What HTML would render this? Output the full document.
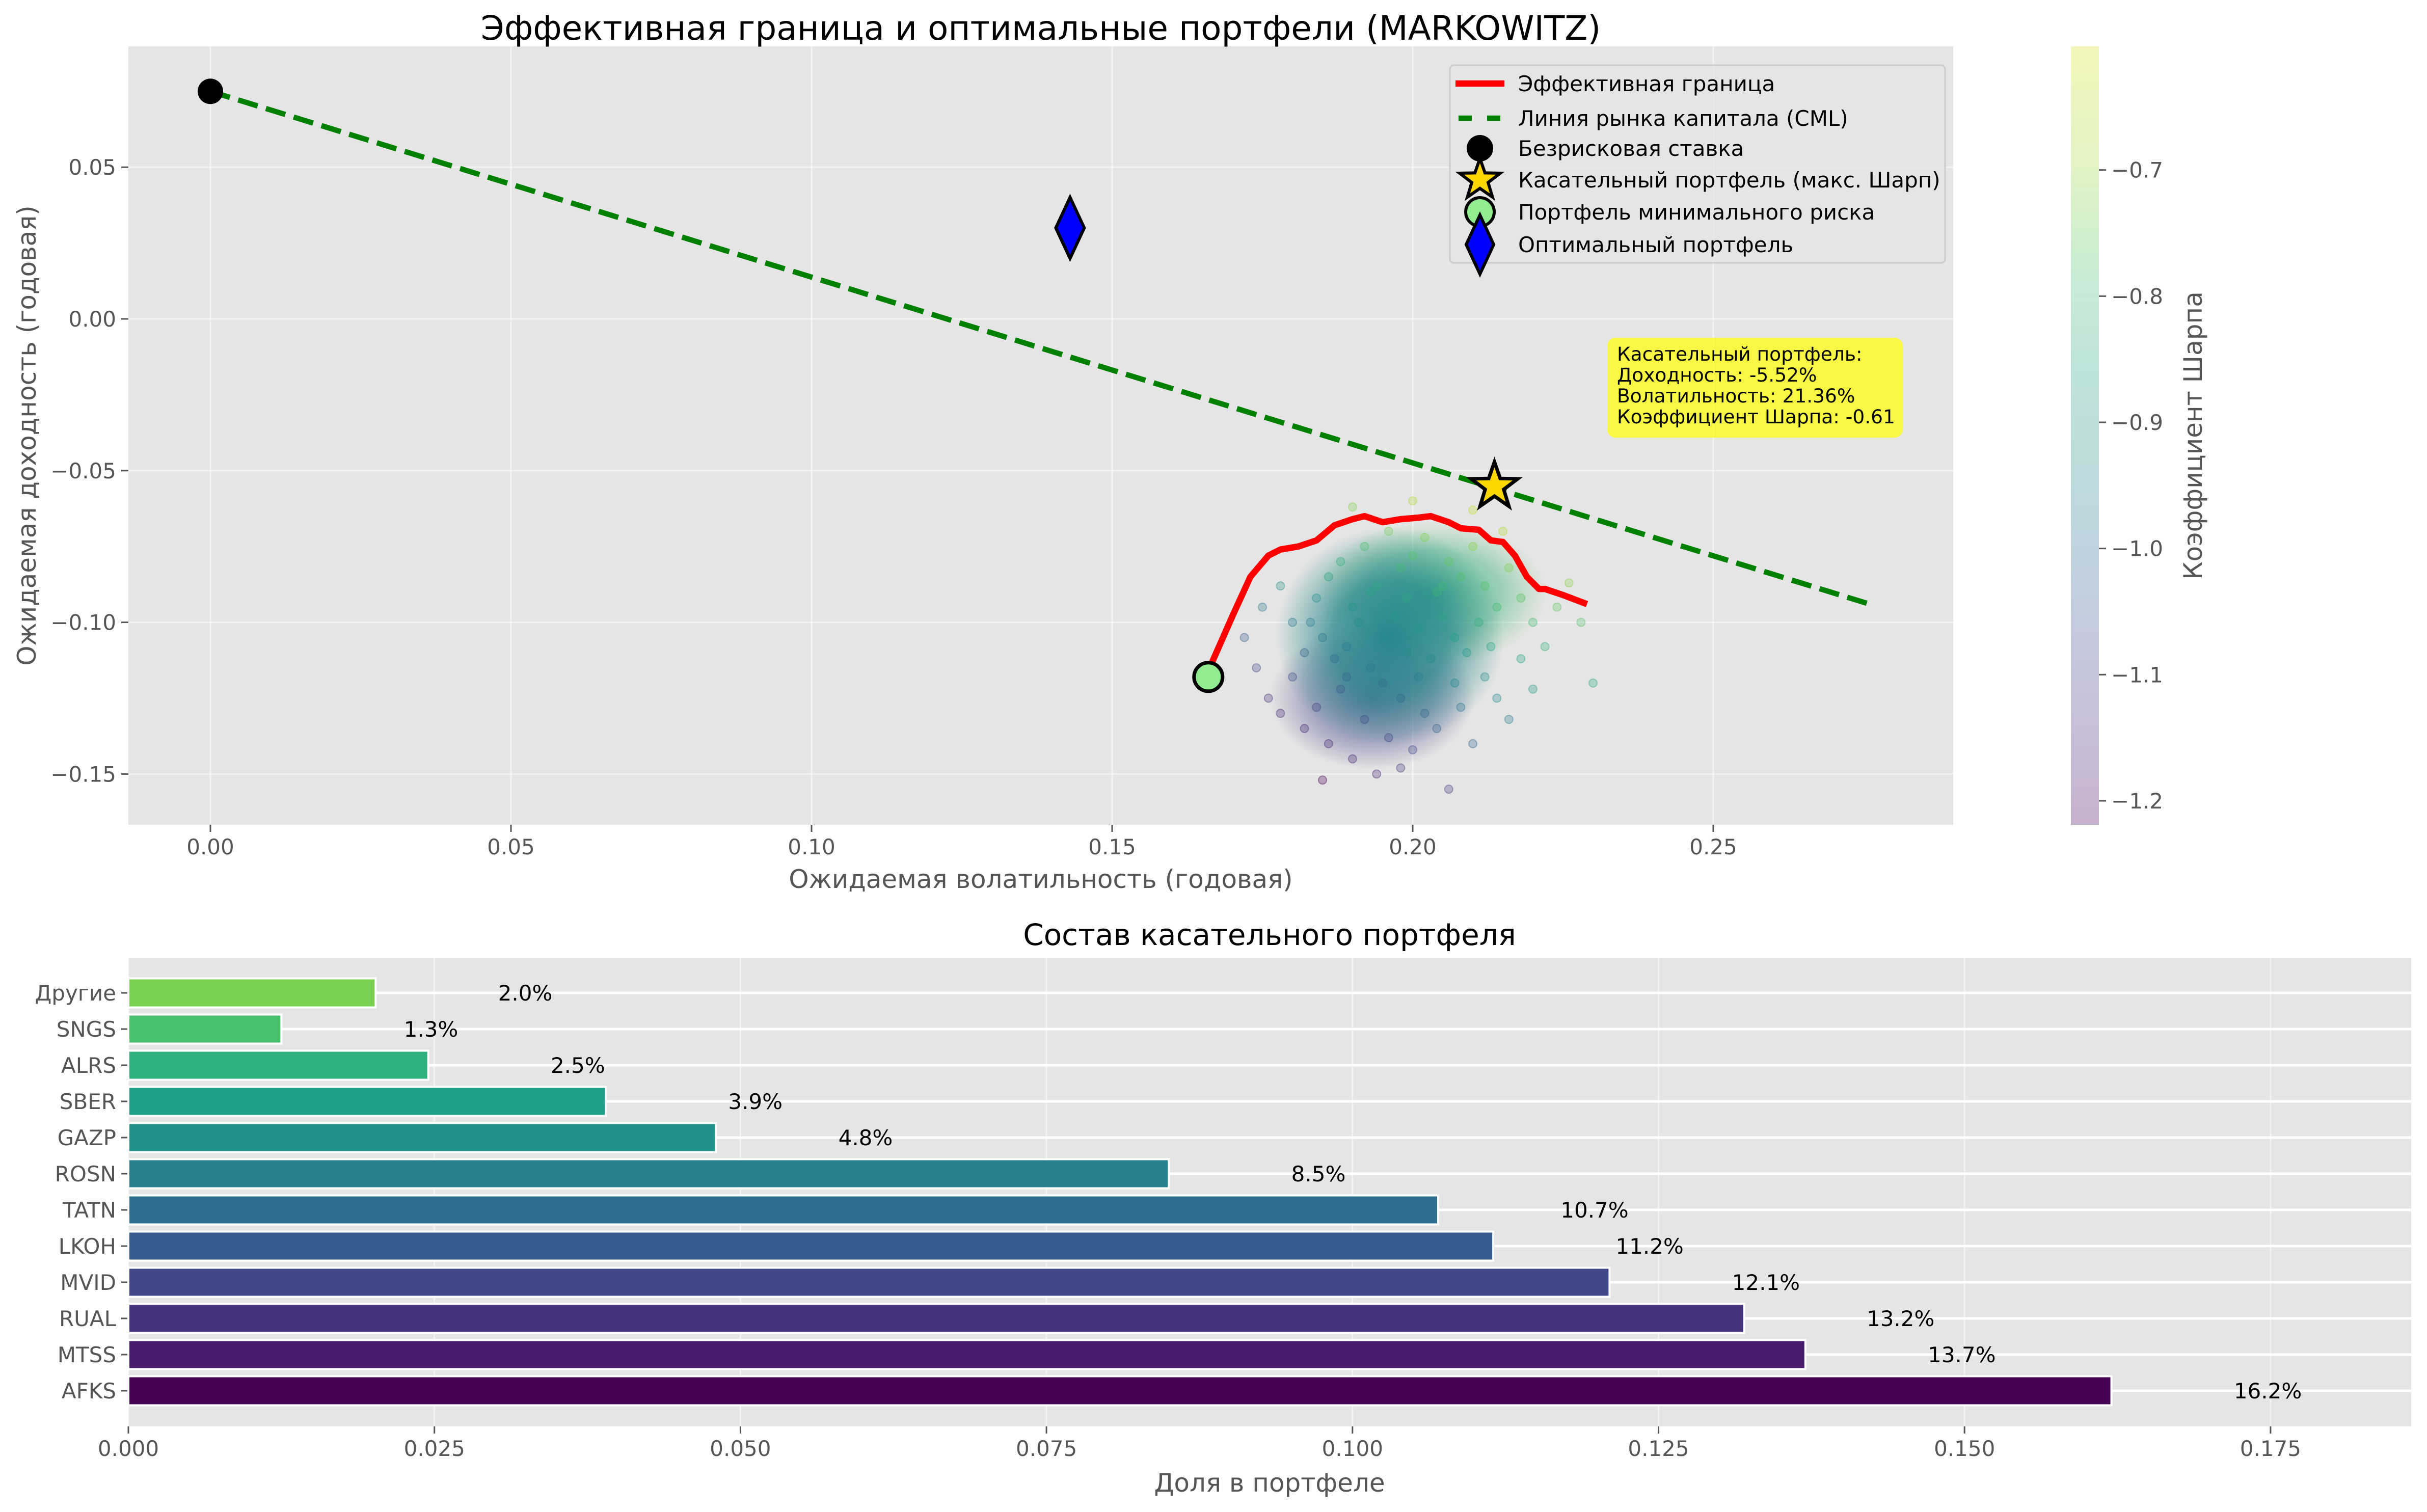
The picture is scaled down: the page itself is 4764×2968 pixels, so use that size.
<!DOCTYPE html>
<html><head><meta charset="utf-8"><style>
html,body{margin:0;padding:0;background:#fff}
svg{display:block;font-family:"DejaVu Sans","Liberation Sans",sans-serif}
</style></head><body>
<svg id="fig" width="4764" height="2968" viewBox="0 0 4764 2968" xmlns="http://www.w3.org/2000/svg">
<defs>
<radialGradient id="gCore"><stop offset="0" stop-color="#22838d" stop-opacity="0.95"/><stop offset="0.5" stop-color="#27878c" stop-opacity="0.75"/><stop offset="0.8" stop-color="#2a8a8a" stop-opacity="0.3"/><stop offset="1" stop-color="#2a8a8a" stop-opacity="0"/></radialGradient>
<radialGradient id="gGreen"><stop offset="0" stop-color="#2fae7e" stop-opacity="0.8"/><stop offset="0.6" stop-color="#3bb57a" stop-opacity="0.45"/><stop offset="1" stop-color="#5ec962" stop-opacity="0"/></radialGradient>
<radialGradient id="gPurple"><stop offset="0" stop-color="#3a4f8a" stop-opacity="0.75"/><stop offset="0.6" stop-color="#3f4788" stop-opacity="0.4"/><stop offset="1" stop-color="#46327e" stop-opacity="0"/></radialGradient>
<linearGradient id="cbar" x1="0" y1="1" x2="0" y2="0">
<stop offset="0" stop-color="#440154"/><stop offset="0.14" stop-color="#46327e"/><stop offset="0.28" stop-color="#365c8d"/><stop offset="0.42" stop-color="#277f8e"/><stop offset="0.57" stop-color="#1fa187"/><stop offset="0.71" stop-color="#4ac16d"/><stop offset="0.85" stop-color="#a0da39"/><stop offset="1" stop-color="#d8e219"/>
</linearGradient>
</defs>
<g id="top"></g>
<g id="bottom"></g>
</svg>
<script>
// ---------- top chart data ----------
const rfRate = 0.075;
const frontierVol = [0.166,0.170,0.173,0.176,0.178,0.181,0.184,0.187,0.190,0.192,0.195,0.198,0.201,0.203,0.206,0.208,0.211,0.213,0.215,0.217,0.219,0.221,0.222,0.225,0.229];
const frontierRet = [-0.116,-0.098,-0.085,-0.078,-0.076,-0.075,-0.073,-0.068,-0.066,-0.065,-0.067,-0.066,-0.0655,-0.065,-0.067,-0.069,-0.0695,-0.073,-0.0735,-0.078,-0.085,-0.089,-0.089,-0.091,-0.094];
const cmlVol = [0, 0.276];
const cmlRet = [0.075, -0.094];
const cloudVol = [0.175,0.178,0.180,0.182,0.184,0.186,0.188,0.190,0.192,0.194,0.196,0.198,0.200,0.202,0.204,0.206,0.208,0.210,0.212,0.214,0.216,0.218,0.220,0.222,0.224,0.226,0.230,0.176,0.178,0.180,0.182,0.184,0.186,0.188,0.190,0.192,0.194,0.196,0.198,0.200,0.202,0.204,0.206,0.208,0.210,0.212,0.214,0.216,0.218,0.220,0.185,0.198,0.183,0.185,0.187,0.189,0.191,0.193,0.195,0.197,0.199,0.201,0.203,0.205,0.207,0.209,0.211,0.213,0.189,0.195,0.201,0.207,0.193,0.199,0.205,0.172,0.174,0.200,0.190,0.210,0.215,0.228];
const cloudRet = [-0.095,-0.088,-0.100,-0.110,-0.092,-0.085,-0.080,-0.095,-0.075,-0.088,-0.070,-0.082,-0.078,-0.072,-0.090,-0.080,-0.085,-0.075,-0.088,-0.095,-0.082,-0.092,-0.100,-0.108,-0.095,-0.087,-0.120,-0.125,-0.130,-0.118,-0.135,-0.128,-0.140,-0.122,-0.145,-0.132,-0.150,-0.138,-0.125,-0.142,-0.130,-0.135,-0.155,-0.128,-0.140,-0.118,-0.125,-0.132,-0.112,-0.122,-0.152,-0.148,-0.100,-0.105,-0.112,-0.108,-0.100,-0.115,-0.105,-0.098,-0.110,-0.102,-0.112,-0.098,-0.105,-0.110,-0.100,-0.108,-0.118,-0.120,-0.118,-0.120,-0.090,-0.092,-0.088,-0.105,-0.115,-0.060,-0.062,-0.063,-0.070,-0.100];
const tangentVol = 0.2136, tangentRet = -0.0552;
const minRiskVol = 0.166, minRiskRet = -0.118;
const optimalVol = 0.143, optimalRet = 0.030;
const xTicks = [0, 0.05, 0.10, 0.15, 0.20, 0.25];
const xTickLabels = ["0.00","0.05","0.10","0.15","0.20","0.25"];
const yTicks = [0.05, 0, -0.05, -0.10, -0.15];
const yTickLabels = ["0.05","0.00","−0.05","−0.10","−0.15"];
const cbTicks = [-0.7,-0.8,-0.9,-1.0,-1.1,-1.2];
const cbTickLabels = ["−0.7","−0.8","−0.9","−1.0","−1.1","−1.2"];
const cbMin = -1.219, cbMax = -0.602;

// ---------- bottom chart data ----------
const tickers = ["AFKS","MTSS","RUAL","MVID","LKOH","TATN","ROSN","GAZP","SBER","ALRS","SNGS","Другие"];
const weights = [0.162,0.137,0.132,0.121,0.1115,0.107,0.085,0.048,0.039,0.0245,0.0125,0.0202];
const weightLabels = ["16.2%","13.7%","13.2%","12.1%","11.2%","10.7%","8.5%","4.8%","3.9%","2.5%","1.3%","2.0%"];
const barColors = ["#440154","#481b6d","#46327e","#3f4788","#365c8d","#2e6e8e","#277f8e","#21918c","#1fa187","#2db27d","#4ac16d","#7ad151"];
const bxTicks = [0,0.025,0.05,0.075,0.1,0.125,0.15,0.175];
const bxTickLabels = ["0.000","0.025","0.050","0.075","0.100","0.125","0.150","0.175"];

const NS = "http://www.w3.org/2000/svg";
function mk(parent, tag, attrs, text){
  const e = document.createElementNS(NS, tag);
  for (const k in attrs) e.setAttribute(k, attrs[k]);
  if (text !== undefined) e.textContent = text;
  parent.appendChild(e); return e;
}
const viridis = [[68,1,84],[70,50,126],[54,92,141],[39,127,142],[31,161,135],[74,193,109],[160,218,57],[253,231,37]];
function vcol(t){
  t = Math.max(0, Math.min(1, t));
  const p = t*(viridis.length-1), i = Math.min(Math.floor(p), viridis.length-2), f = p-i;
  const c = viridis[i].map((v,k)=>Math.round(v+(viridis[i+1][k]-v)*f));
  return `rgb(${c[0]},${c[1]},${c[2]})`;
}

// ===== top axes =====
const T = document.getElementById('top');
const AX = {l:252, r:3834, t:91, b:1619};
const sx = v => 413 + v*11800;
const sy = r => 626 - r*5956;
let bg = mk(T,'rect',{x:AX.l,y:AX.t,width:AX.r-AX.l,height:AX.b-AX.t,fill:'#e5e5e5'});


xTicks.forEach((v,i)=>{
  const x = sx(v);
  let g = mk(T,'line',{x1:x,x2:x,y1:AX.t,y2:AX.b,stroke:'#ffffff','stroke-width':3,'stroke-opacity':0.5});
  
  
  mk(T,'line',{x1:x,x2:x,y1:AX.b,y2:AX.b+14,stroke:'#555','stroke-width':3});
  let t = mk(T,'text',{x:x,y:AX.b+58,'font-size':42,fill:'#555','text-anchor':'middle'},xTickLabels[i]);
  
  
});
yTicks.forEach((v,i)=>{
  const y = sy(v);
  let g = mk(T,'line',{x1:AX.l,x2:AX.r,y1:y,y2:y,stroke:'#ffffff','stroke-width':3,'stroke-opacity':0.5});
  
  
  mk(T,'line',{x1:AX.l-14,x2:AX.l,y1:y,y2:y,stroke:'#555','stroke-width':3});
  let t = mk(T,'text',{x:AX.l-24,y:y+15,'font-size':42,fill:'#555','text-anchor':'end'},yTickLabels[i]);
  
  
});
// density blobs centred on cloud mean
const mv = cloudVol.reduce((a,b)=>a+b,0)/cloudVol.length;
const mr = cloudRet.reduce((a,b)=>a+b,0)/cloudRet.length;
let b3 = mk(T,'ellipse',{cx:sx(mv-0.006),cy:sy(mr-0.018),rx:0.017*11800,ry:0.024*5956,fill:'url(#gPurple)'});


let b2 = mk(T,'ellipse',{cx:sx(mv+0.004),cy:sy(mr+0.016),rx:0.019*11800,ry:0.024*5956,fill:'url(#gGreen)'});


let b1 = mk(T,'ellipse',{cx:sx(mv-0.003),cy:sy(mr+0.002),rx:0.019*11800,ry:0.036*5956,fill:'url(#gCore)'});


cloudVol.forEach((v,i)=>{
  const s = (cloudRet[i]-rfRate)/v;
  const c = vcol((s-cbMin)/(cbMax-cbMin));
  let p = mk(T,'circle',{cx:sx(v),cy:sy(cloudRet[i]),r:8,fill:c,'fill-opacity':0.3,stroke:c,'stroke-opacity':0.4,'stroke-width':2});
  
  
});
// frontier
let fl = mk(T,'polyline',{points:frontierVol.map((v,i)=>sx(v)+','+sy(frontierRet[i])).join(' '),fill:'none',stroke:'#ff0000','stroke-width':12.5,'stroke-linejoin':'round'});


// CML
let cl = mk(T,'line',{x1:sx(cmlVol[0]),y1:sy(cmlRet[0]),x2:sx(cmlVol[1]),y2:sy(cmlRet[1]),stroke:'#008000','stroke-width':10.5,'stroke-dasharray':'40 17'});


// markers
let rf = mk(T,'circle',{cx:sx(0),cy:sy(rfRate),r:25,fill:'#000'});


function star(cx,cy,R){const p=[];for(let k=0;k<10;k++){const a=-Math.PI/2+k*Math.PI/5;const r=k%2?R*0.4:R;p.push((cx+r*Math.cos(a)).toFixed(1)+','+(cy+r*Math.sin(a)).toFixed(1));}return p.join(' ');}
let st = mk(T,'polygon',{points:star(sx(tangentVol),sy(tangentRet),48),fill:'#ffd700',stroke:'#000','stroke-width':7,'stroke-linejoin':'miter'});


let mrk = mk(T,'circle',{cx:sx(minRiskVol),cy:sy(minRiskRet),r:28,fill:'#90ee90',stroke:'#000','stroke-width':7});


const ox=sx(optimalVol), oy=sy(optimalRet);
let dm = mk(T,'polygon',{points:`${ox},${oy-60} ${ox+28},${oy} ${ox},${oy+60} ${ox-28},${oy}`,fill:'#0000ff',stroke:'#000','stroke-width':6});


// annotation
let an = mk(T,'g',{});


mk(an,'rect',{x:3155,y:663,width:580,height:196,rx:16,fill:'#ffff00','fill-opacity':0.7});
["Касательный портфель:","Доходность: -5.52%","Волатильность: 21.36%","Коэффициент Шарпа: -0.61"].forEach((s,i)=>{
  mk(an,'text',{x:3174,y:708+i*41,'font-size':37.5,fill:'#000'},s);
});
// legend
let lg = mk(T,'g',{});


mk(lg,'rect',{x:2846,y:128,width:972,height:388,rx:8,fill:'#e5e5e5','fill-opacity':0.8,stroke:'#cccccc','stroke-width':3});
const legY=[164,232,291,353,416,480];
const legT=["Эффективная граница","Линия рынка капитала (CML)","Безрисковая ставка","Касательный портфель (макс. Шарп)","Портфель минимального риска","Оптимальный портфель"];
mk(lg,'line',{x1:2857,x2:2953,y1:legY[0],y2:legY[0],stroke:'#ff0000','stroke-width':12.5});
mk(lg,'line',{x1:2863,x2:2947,y1:legY[1],y2:legY[1],stroke:'#008000','stroke-width':10.5,'stroke-dasharray':'26 30'});
mk(lg,'circle',{cx:2905,cy:legY[2],r:26,fill:'#000'});
mk(lg,'polygon',{points:star(2905,legY[3],42),fill:'#ffd700',stroke:'#000','stroke-width':6});
mk(lg,'circle',{cx:2905,cy:legY[4],r:28,fill:'#90ee90',stroke:'#000','stroke-width':6});
mk(lg,'polygon',{points:`2905,${legY[5]-58} 2932,${legY[5]} 2905,${legY[5]+58} 2878,${legY[5]}`,fill:'#0000ff',stroke:'#000','stroke-width':6});
legT.forEach((s,i)=>{
  let t = mk(lg,'text',{x:2980,y:legY[i]+15,'font-size':42,fill:'#000'},s);
  
  
});
let tt = mk(T,'text',{x:2043,y:78,'font-size':66,fill:'#000','text-anchor':'middle'},"Эффективная граница и оптимальные портфели (MARKOWITZ)");


let xl = mk(T,'text',{x:2043,y:1743,'font-size':50,fill:'#555','text-anchor':'middle'},"Ожидаемая волатильность (годовая)");


let yl = mk(T,'text',{x:0,y:0,'font-size':50,fill:'#555','text-anchor':'middle',transform:'translate(70,855) rotate(-90)'},"Ожидаемая доходность (годовая)");


// colorbar
const CB={l:4065,r:4120,t:91,b:1619};
const cy = v => CB.t + (cbMax - v)/(cbMax-cbMin)*(CB.b-CB.t);
let cbr = mk(T,'rect',{x:CB.l,y:CB.t,width:CB.r-CB.l,height:CB.b-CB.t,fill:'url(#cbar)','fill-opacity':0.3});


cbTicks.forEach((v,i)=>{
  const y = cy(v);
  mk(T,'line',{x1:CB.r,x2:CB.r+14,y1:y,y2:y,stroke:'#555','stroke-width':3});
  let t = mk(T,'text',{x:CB.r+24,y:y+15,'font-size':42,fill:'#555'},cbTickLabels[i]);
  
  
});
let cbl = mk(T,'text',{x:0,y:0,'font-size':50,fill:'#555','text-anchor':'middle',transform:'translate(4322,855) rotate(-90)'},"Коэффициент Шарпа");



// ===== bottom axes =====
const B = document.getElementById('bottom');
const BX = {l:252, r:4733, t:1880, b:2800};
const bx = v => BX.l + v*24028;
const by = i => 2730 - i*71;
let bbg = mk(B,'rect',{x:BX.l,y:BX.t,width:BX.r-BX.l,height:BX.b-BX.t,fill:'#e5e5e5'});


bxTicks.forEach((v,i)=>{
  const x = bx(v);
  mk(B,'line',{x1:x,x2:x,y1:BX.t,y2:BX.b,stroke:'#ffffff','stroke-width':3,'stroke-opacity':0.5});
  mk(B,'line',{x1:x,x2:x,y1:BX.b,y2:BX.b+14,stroke:'#555','stroke-width':3});
  let t = mk(B,'text',{x:x,y:BX.b+58,'font-size':42,fill:'#555','text-anchor':'middle'},bxTickLabels[i]);
  
  
});
tickers.forEach((n,i)=>{
  const y = by(i);
  mk(B,'line',{x1:BX.l,x2:BX.r,y1:y,y2:y,stroke:'#ffffff','stroke-width':5});
  mk(B,'line',{x1:BX.l-14,x2:BX.l,y1:y,y2:y,stroke:'#555','stroke-width':3});
  let t = mk(B,'text',{x:BX.l-24,y:y+15,'font-size':42,fill:'#555','text-anchor':'end'},n);
  
  
});
tickers.forEach((n,i)=>{
  const y = by(i);
  let r = mk(B,'rect',{x:BX.l,y:y-28.5,width:bx(weights[i])-BX.l,height:57,fill:barColors[i],stroke:'#ffffff','stroke-width':4});
  
  
  let t = mk(B,'text',{x:bx(weights[i]+0.01),y:y+15,'font-size':42,fill:'#000'},weightLabels[i]);
  
  
});
let bt = mk(B,'text',{x:2492,y:1855,'font-size':58,fill:'#000','text-anchor':'middle'},"Состав касательного портфеля");


let bxl = mk(B,'text',{x:2492,y:2928,'font-size':50,fill:'#555','text-anchor':'middle'},"Доля в портфеле");


</script>
</body></html>
